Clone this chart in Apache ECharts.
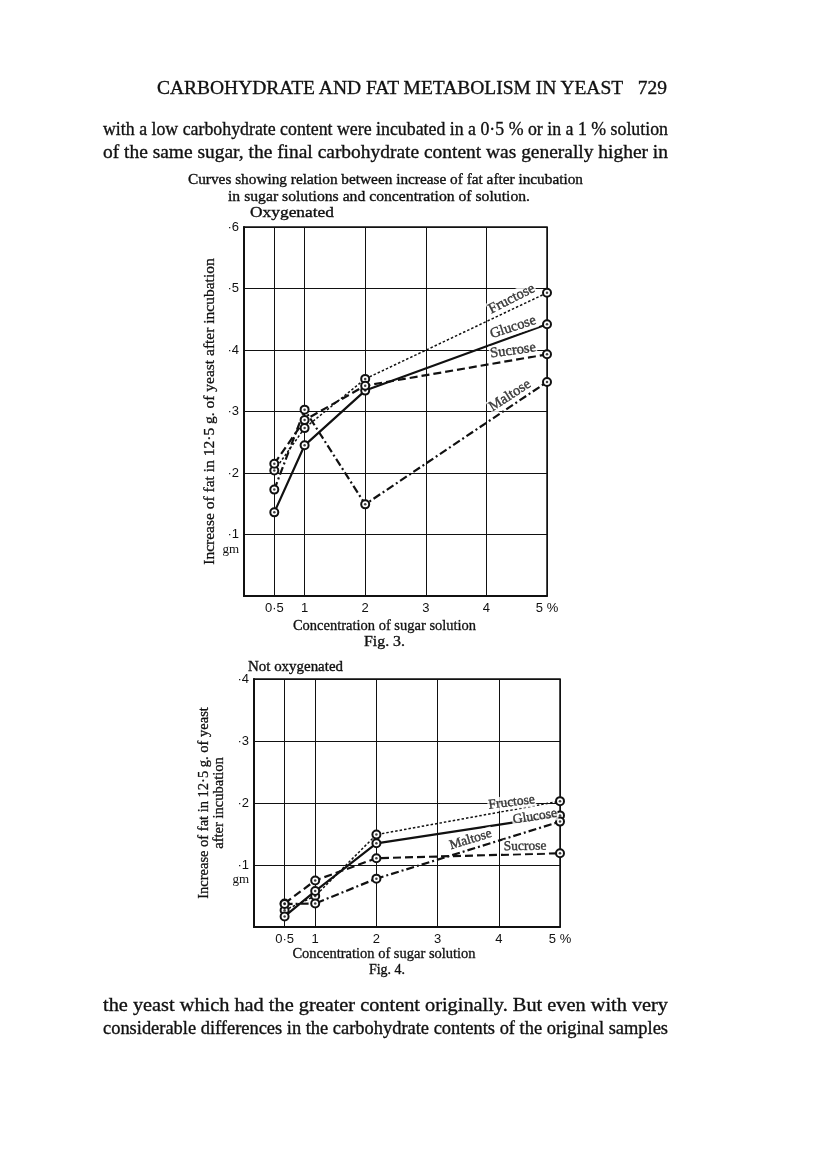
<!DOCTYPE html>
<html lang="en">
<head>
    <meta charset="UTF-8">
    <title>Carbohydrate and fat metabolism in yeast</title>
    <script src="https://cdn.jsdelivr.net/npm/echarts@6.0.0/dist/echarts.min.js"></script>
    <style>
        html, body {
            margin: 0;
            padding: 0;
            background: #fff;
        }

        #page {
            position: relative;
            width: 816px;
            height: 1174px;
            overflow: hidden;
        }

        #chart {
            position: absolute;
            left: 0;
            top: 0;
            width: 816px;
            height: 1174px;
        }

        .line {
            position: absolute;
            white-space: nowrap;
            font-family: "Liberation Serif", "DejaVu Serif", serif;
            color: #111;
            -webkit-text-stroke: 0.35px #111;
            transform-origin: 0 50%;
        }
    </style>
</head>
<body>
<div id="page">
    <div id="chart"></div>

    <!-- page text: left, right, centre y, font size -->
    <div class="line" data-l="157" data-r="667" data-y="88" data-s="19.5">CARBOHYDRATE AND FAT METABOLISM IN YEAST&nbsp;&nbsp;&nbsp;729</div>
    <div class="line" data-l="103" data-r="668" data-y="128" data-s="19">with a low carbohydrate content were incubated in a 0·5 % or in a 1 % solution</div>
    <div class="line" data-l="103" data-r="668" data-y="151" data-s="19">of the same sugar, the final carbohydrate content was generally higher in</div>
    <div class="line" data-l="188" data-r="583" data-y="179" data-s="14.5">Curves showing relation between increase of fat after incubation</div>
    <div class="line" data-l="228" data-r="530" data-y="196" data-s="14.5">in sugar solutions and concentration of solution.</div>
    <div class="line" data-l="250" data-r="334" data-y="212" data-s="14.5">Oxygenated</div>
    <div class="line" data-l="364" data-r="405" data-y="642" data-s="14">Fig. 3.</div>
    <div class="line" data-l="248" data-r="343" data-y="666" data-s="14.5">Not oxygenated</div>
    <div class="line" data-l="369" data-r="405" data-y="970" data-s="14">Fig. 4.</div>
    <div class="line" data-l="103" data-r="668" data-y="1004" data-s="19">the yeast which had the greater content originally. But even with very</div>
    <div class="line" data-l="103" data-r="668" data-y="1027" data-s="19">considerable differences in the carbohydrate contents of the original samples</div>
</div>

<script>
    // 浓度 (%)
    const concentrations = [0.5, 1, 2, 5];

    // Fig. 3 Oxygenated
    const oxyFructose = [0.204, 0.273, 0.353, 0.493];
    const oxyGlucose = [0.136, 0.245, 0.334, 0.442];
    const oxySucrose = [0.215, 0.286, 0.342, 0.393];
    const oxyMaltose = [0.173, 0.303, 0.149, 0.348];

    // Fig. 4 Not oxygenated
    const noFructose = [0.027, 0.050, 0.149, 0.203];
    const noGlucose = [0.017, 0.058, 0.135, 0.180];
    const noSucrose = [0.038, 0.075, 0.111, 0.119];
    const noMaltose = [0.037, 0.038, 0.078, 0.170];

    const sugars = ['Fructose', 'Glucose', 'Sucrose', 'Maltose'];
    const xTickLabels = {0.5: '0·5', 1: '1', 2: '2', 3: '3', 4: '4', 5: '5 %'};

    // stretch each text line to the width it has on the page
    document.querySelectorAll('.line').forEach(el => {
        const l = +el.dataset.l, r = +el.dataset.r, y = +el.dataset.y, s = +el.dataset.s;
        el.style.fontSize = s + 'px';
        el.style.lineHeight = s + 'px';
        el.style.left = l + 'px';
        el.style.top = (y - s / 2) + 'px';
        const w = el.getBoundingClientRect().width;
        el.style.transform = 'scaleX(' + ((r - l) / w) + ')';
    });

    const chart = echarts.init(document.getElementById('chart'), null, {renderer: 'canvas'});

    const serif = '"Liberation Serif", "DejaVu Serif", serif';
    const sans = '"Liberation Sans", "DejaVu Sans", sans-serif';

    const styles = {
        Fructose: {type: [2.5, 2], width: 1.5},
        Glucose: {type: 'solid', width: 2.2},
        Sucrose: {type: [8, 4], width: 2.2},
        Maltose: {type: [8, 3, 2, 3], width: 2.2}
    };

    function pairs(values) {
        return concentrations.map((c, i) => [c, values[i]]);
    }

    function sugarSeries(name, values, idx) {
        return {
            name: name,
            type: 'line',
            xAxisIndex: idx,
            yAxisIndex: idx,
            data: pairs(values),
            symbol: 'emptyCircle',
            symbolSize: 8,
            showSymbol: true,
            itemStyle: {color: '#111', borderWidth: 1.5},
            lineStyle: Object.assign({color: '#111'}, styles[name]),
            z: 5,
            silent: true
        };
    }

    // 圆圈中间的小点
    function dotSeries(values, idx) {
        return {
            type: 'scatter',
            xAxisIndex: idx,
            yAxisIndex: idx,
            data: pairs(values),
            symbol: 'circle',
            symbolSize: 2.5,
            itemStyle: {color: '#111'},
            z: 7,
            silent: true
        };
    }

    // 曲线名称: [text, x, y, rotate]
    function labelSeries(idx, items, size) {
        return {
            type: 'scatter',
            xAxisIndex: idx,
            yAxisIndex: idx,
            symbolSize: 0,
            silent: true,
            z: 6,
            data: items.map(it => ({
                value: [it[1], it[2]],
                label: {
                    show: true,
                    formatter: it[0],
                    rotate: it[3],
                    position: 'inside',
                    fontFamily: serif,
                    fontSize: size,
                    color: '#111',
                    textBorderColor: '#111',
                    textBorderWidth: 0.4,
                    backgroundColor: '#fff',
                    padding: [0, 1]
                }
            }))
        };
    }

    // 0·5 的竖线
    function halfLine() {
        return {
            silent: true,
            symbol: 'none',
            label: {show: false},
            lineStyle: {color: '#111', type: 'solid', width: 1},
            data: [{xAxis: 0.5}]
        };
    }

    function xAxis(idx, nameGap, shift) {
        return {
            type: 'value',
            gridIndex: idx,
            min: 0,
            max: 5,
            interval: 0.5,
            name: 'Concentration of sugar solution',
            nameLocation: 'middle',
            nameGap: nameGap,
            nameTextStyle: {
                fontFamily: serif, fontSize: 14.5, color: '#111',
                textBorderColor: '#111', textBorderWidth: 0.3,
                padding: [0, shift * 2, 0, 0]
            },
            axisLine: {show: true, lineStyle: {color: '#111', width: 2}},
            axisTick: {show: false},
            axisLabel: {
                fontFamily: sans,
                fontSize: 13,
                color: '#111',
                margin: 6,
                formatter: v => xTickLabels[v] || ''
            },
            splitLine: {show: false}
        };
    }

    // grid lines at 1..4 (interval 1)
    function xGridAxis(idx) {
        return {
            type: 'value',
            gridIndex: idx,
            min: 0,
            max: 5,
            interval: 1,
            axisLine: {show: false},
            axisTick: {show: false},
            axisLabel: {show: false},
            splitLine: {show: true, lineStyle: {color: '#111', width: 1}}
        };
    }

    function yAxis(idx, max, name, nameGap, size) {
        return {
            type: 'value',
            gridIndex: idx,
            min: 0,
            max: max,
            interval: 0.1,
            name: name,
            nameLocation: 'middle',
            nameRotate: 90,
            nameGap: nameGap,
            nameTextStyle: {
                fontFamily: serif, fontSize: size, color: '#111', lineHeight: 15,
                textBorderColor: '#111', textBorderWidth: 0.3
            },
            axisLine: {show: true, lineStyle: {color: '#111', width: 2}},
            axisTick: {show: false},
            axisLabel: {
                fontFamily: sans,
                fontSize: 13,
                color: '#111',
                margin: 5,
                lineHeight: 15,
                formatter: v => {
                    const n = Math.round(v * 10);
                    if (n === 0) return '';
                    if (n === 1) return ' \n·1\n{g|gm}';
                    return '·' + n;
                },
                rich: {g: {fontFamily: serif, fontSize: 13, color: '#111'}}
            },
            splitLine: {show: true, lineStyle: {color: '#111', width: 1}}
        };
    }

    const oxy = [oxyFructose, oxyGlucose, oxySucrose, oxyMaltose];
    const notOxy = [noFructose, noGlucose, noSucrose, noMaltose];

    const series = [];
    oxy.forEach((v, i) => series.push(sugarSeries(sugars[i], v, 0)));
    notOxy.forEach((v, i) => series.push(sugarSeries(sugars[i], v, 2)));
    series[0].markLine = halfLine();
    series[4].markLine = halfLine();
    oxy.forEach(v => series.push(dotSeries(v, 0)));
    notOxy.forEach(v => series.push(dotSeries(v, 2)));

    series.push(labelSeries(0, [
        ['Fructose', 4.42, 0.483, 27],
        ['Glucose', 4.44, 0.437, 18],
        ['Sucrose', 4.44, 0.399, 8],
        ['Maltose', 4.39, 0.326, 33]
    ], 14.5));
    series.push(labelSeries(2, [
        ['Fructose', 4.21, 0.201, 7],
        ['Glucose', 4.59, 0.178, 9],
        ['Maltose', 3.54, 0.141, 17],
        ['Sucrose', 4.43, 0.130, 1]
    ], 13.5));

    const option = {
        animation: false,
        grid: [
            {left: 244, top: 227, width: 303, height: 369, show: true, borderColor: '#111', borderWidth: 1.5},
            {left: 254, top: 679, width: 306, height: 248, show: true, borderColor: '#111', borderWidth: 1.5}
        ],
        xAxis: [xAxis(0, 23, 11), xGridAxis(0), xAxis(1, 20, 23), xGridAxis(1)],
        yAxis: [
            yAxis(0, 0.6, 'Increase of fat in 12·5 g. of yeast after incubation', 18, 15.5),
            Object.assign(yAxis(0, 0.6, '', 0, 13), {show: false}),
            yAxis(1, 0.4, 'Increase of fat in 12·5 g. of yeast\nafter incubation', 27, 14.5),
            Object.assign(yAxis(1, 0.4, '', 0, 13), {show: false})
        ],
        series: series
    };

    chart.setOption(option);
</script>
</body>
</html>
